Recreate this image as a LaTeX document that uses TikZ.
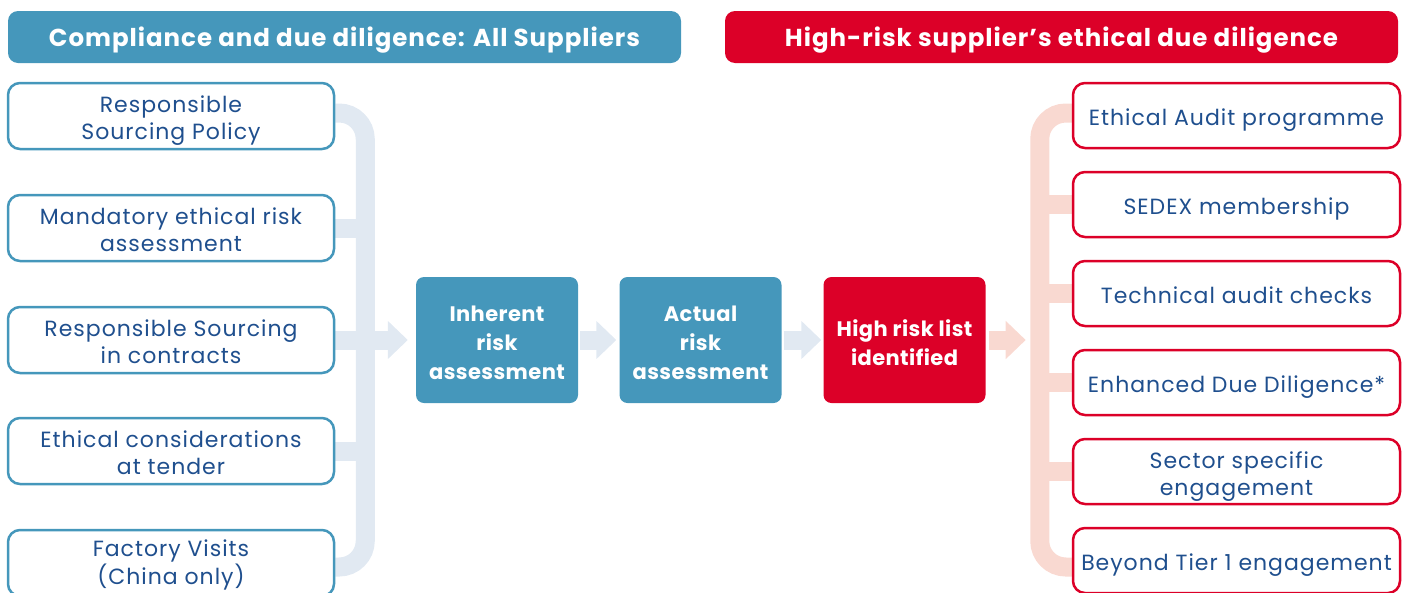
\documentclass[tikz,border=0pt]{standalone}
\usepackage{fontspec}
\setmainfont{Poppins}
\newfontfamily\boxfont[LetterSpace=4.5]{Poppins}
\newfontfamily\stepfont[LetterSpace=2]{Poppins}
\newfontfamily\bannerfont[LetterSpace=4]{Poppins}
\usetikzlibrary{arrows.meta,backgrounds}

\definecolor{cdTeal}{HTML}{4597BB}
\definecolor{cdRed}{HTML}{DC0028}
\definecolor{cdInk}{HTML}{1F4F8E}
\definecolor{cdMist}{HTML}{E1E9F2}
\definecolor{cdBlush}{HTML}{F9D9D1}

% centred lines, shifted down a little while keeping their measured size
\newcommand\lines[2]{\raisebox{#1}[\height][\depth]{\begin{tabular}{@{}c@{}}#2\end{tabular}}}

\tikzset{
  banner/.style={rounded corners=10pt, minimum width=673pt, minimum height=52pt,
    inner sep=0pt, text=white, font=\bannerfont\bfseries\fontsize{24.5}{28}\selectfont},
  leftbox/.style={draw=cdTeal, line width=2.5pt, fill=white, rounded corners=12pt,
    minimum width=326pt, minimum height=66pt, inner sep=0pt,
    text=cdInk, font=\boxfont\fontsize{22}{27}\selectfont},
  rightbox/.style={draw=cdRed, line width=2.5pt, fill=white, rounded corners=12pt,
    minimum width=327pt, minimum height=65pt, inner sep=0pt,
    text=cdInk, font=\boxfont\fontsize{22}{27}\selectfont},
  processbox/.style={rounded corners=8pt, minimum width=162pt, minimum height=126pt,
    inner sep=0pt, text=white, font=\stepfont\bfseries\fontsize{21}{29}\selectfont},
  bracket/.style={line width=19pt, rounded corners=26pt},
  blockarrow/.style={line width=19pt, -{Triangle[length=20pt,width=37pt]}},
}

\begin{document}
\begin{tikzpicture}[x=1pt,y=-1pt]
\useasboundingbox (0,0) rectangle (1407,592);

% headings
\node[banner, fill=cdTeal] (hdA) at (344.5,37) {\lines{-4pt}{Compliance and due diligence: All Suppliers}};
\node[banner, fill=cdRed]  (hdB) at (1061.5,37) {\lines{-4pt}{High-risk supplier’s ethical due diligence}};

% measures applied to all suppliers
\node[leftbox] (lb1) at (171,116) {\lines{-5pt}{Responsible\\Sourcing Policy}};
\node[leftbox] (lb2) at (171,228) {\lines{-5pt}{Mandatory ethical risk\\assessment}};
\node[leftbox] (lb3) at (171,340) {\lines{-5pt}{Responsible Sourcing\\in contracts}};
\node[leftbox] (lb4) at (171,451) {\lines{-5pt}{Ethical considerations\\at tender}};
\node[leftbox] (lb5) at (171,563) {\lines{-2pt}{Factory Visits\\(China only)}};

% assessment chain
\node[processbox, fill=cdTeal] (inh) at (497,340) {\lines{-5pt}{Inherent\\risk\\assessment}};
\node[processbox, fill=cdTeal] (act) at (700.5,340) {\lines{-5pt}{Actual\\risk\\assessment}};
\node[processbox, fill=cdRed]  (hrl) at (904.5,340) {\lines{-5pt}{High risk list\\identified}};

% measures for high-risk suppliers
\node[rightbox] (rb1) at (1236.5,115.5) {\lines{-5pt}{Ethical Audit programme}};
\node[rightbox] (rb2) at (1236.5,204.5) {\lines{-5pt}{SEDEX membership}};
\node[rightbox] (rb3) at (1236.5,293.5) {\lines{-5pt}{Technical audit checks}};
\node[rightbox] (rb4) at (1236.5,382.5) {\lines{-5pt}{Enhanced Due Diligence*}};
\node[rightbox] (rb5) at (1236.5,471.5) {\lines{-5pt}{Sector specific\\engagement}};
\node[rightbox] (rb6) at (1236.5,560.5) {\lines{-5pt}{Beyond Tier 1 engagement}};

\begin{scope}[on background layer]
  % left collecting bracket
  \draw[bracket, draw=cdMist] ([yshift=3pt]lb1.east) -- ++(30,0) |- ([yshift=-4pt]lb5.east);
  \foreach \b in {lb2,lb3,lb4}
    \draw[line width=19pt, draw=cdMist] (\b.east) -- ++(30,0);
  % right distributing bracket
  \draw[bracket, draw=cdBlush] ([yshift=2.5pt]rb1.west) -- ++(-32,0) |- ([yshift=-6.5pt]rb6.west);
  \foreach \b in {rb2,rb3,rb4,rb5}
    \draw[line width=19pt, draw=cdBlush] (\b.west) -- ++(-32,0);
\end{scope}

% flow arrows
\draw[blockarrow, draw=cdMist, fill=cdMist] ([xshift=30pt]lb3.east) -- ([xshift=-8pt]inh.west);
\draw[blockarrow, draw=cdMist, fill=cdMist] ([xshift=2pt]inh.east) -- ([xshift=-3pt]act.west);
\draw[blockarrow, draw=cdMist, fill=cdMist] ([xshift=2pt]act.east) -- ([xshift=-2pt]hrl.west);
\draw[blockarrow, draw=cdBlush, fill=cdBlush] ([xshift=3pt]hrl.east) -- ([xshift=40pt]hrl.east);
\end{tikzpicture}
\end{document}
